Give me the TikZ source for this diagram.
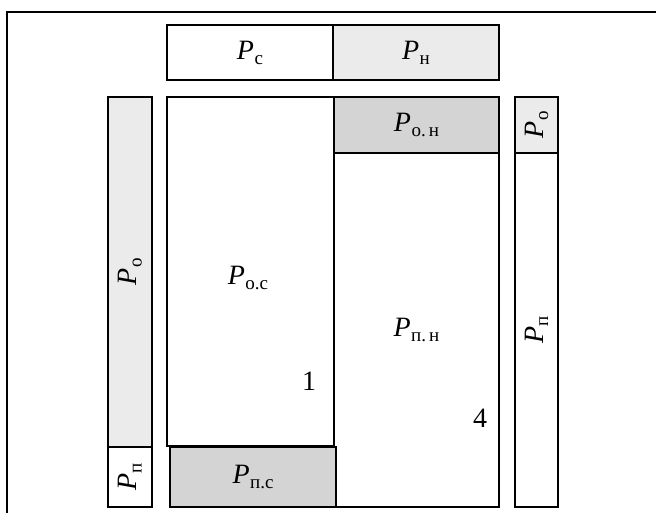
\documentclass[tikz,border=0pt]{standalone}
\usepackage{fontspec}
\setmainfont{Liberation Serif}
\definecolor{lightg}{HTML}{EBEBEB}
\definecolor{darkg}{HTML}{D4D4D4}
\newcommand\Psub[1]{\textit{P}\kern0.5pt\raisebox{-5pt}{\fontsize{19}{19}\selectfont #1}}
\begin{document}
\begin{tikzpicture}[x=1pt,y=-1pt,
  box/.style={draw, line width=1.6pt, inner sep=0pt, outer sep=0pt, anchor=north west},
  light/.style={fill=lightg},
  dark/.style={fill=darkg},
  lbl/.style={inner sep=0pt, font=\fontsize{28}{28}\selectfont}]
\useasboundingbox (0,0) rectangle (656,513);
\coordinate (fr) at (656,12);
\coordinate (fc) at (7,12);
\coordinate (fb) at (7,513);
\draw[line width=2pt] (fr) -- (fc) -- (fb);
% top row
\node[box, minimum width=166pt, minimum height=55pt] (pc) at (167,25) {};
\node[box, light, minimum width=166pt, minimum height=55pt] (pn) at (333,25) {};
% left column
\node[box, light, minimum width=44pt, minimum height=350pt] (lo) at (108,97) {};
\node[box, minimum width=44pt, minimum height=60pt] (lp) at (108,447) {};
% middle
\node[box, minimum width=167pt, minimum height=349pt] (poc) at (167,97) {};
\node[box, dark, minimum width=165pt, minimum height=56pt] (pon) at (334,97) {};
\node[box, minimum width=165pt, minimum height=354pt] (ppn) at (334,153) {};
\node[box, dark, minimum width=166pt, minimum height=60pt] (ppc) at (170,447) {};
% right column
\node[box, light, minimum width=43pt, minimum height=56pt] (ro) at (515,97) {};
\node[box, minimum width=43pt, minimum height=354pt] (rp) at (515,153) {};
% labels
\node[lbl] at (pc.center) {\Psub{с}};
\node[lbl] at (pn.center) {\Psub{н}};
\node[lbl, rotate=90] at (lo.center) {\Psub{о}};
\node[lbl, rotate=90] at (lp.center) {\Psub{п}};
\node[lbl] at (248,278) {\Psub{о.с}};
\node[lbl] at (309,381) {1};
\node[lbl] at (pon.center) {\Psub{о.\,н}};
\node[lbl] at (ppn.center) {\Psub{п.\,н}};
\node[lbl] at (480,418) {4};
\node[lbl] at (ppc.center) {\Psub{п.с}};
\node[lbl, rotate=90] at (ro.center) {\Psub{о}};
\node[lbl, rotate=90] at (rp.center) {\Psub{п}};
\end{tikzpicture}
\end{document}
